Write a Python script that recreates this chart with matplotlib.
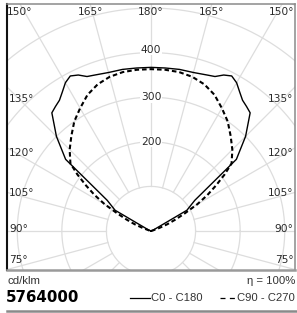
import numpy as np
import matplotlib
matplotlib.use("Agg")
import matplotlib.pyplot as plt
from matplotlib.lines import Line2D

# ---- data (cd/klm), gamma angle in degrees (0 = nadir, 180 = zenith) ----
gamma_c0 = [90, 105, 110, 115, 120, 125, 130, 135, 140, 142.5, 145, 147.5,
            150, 152.5, 155, 157.5, 160, 165, 170, 175, 180]
int_c0 = [0, 0, 2, 8, 93, 120, 250, 300, 346, 352, 358, 370,
          384, 392, 386, 375, 372, 368, 368, 367, 367]

gamma_c90 = [90, 100, 105, 110, 112.5, 115, 117.5, 120, 122.5, 125, 127.5,
             130, 135, 140, 145, 150, 155, 160, 165, 170, 175, 180]
int_c90 = [0, 0, 4, 20, 40, 60, 85, 120, 150, 178, 208,
           236, 258, 278, 300, 318, 337, 350, 358, 362, 363, 363]

ring_values = [100, 200, 300, 400, 500, 600]
ring_labels = [200, 300, 400]
angle_top = [150, 165, 180, 165, 150]
angle_side = [135, 120, 105, 90, 75]
model = "5764000"
unit = "cd/klm"
eta = "η = 100%"
legend_labels = ["C0 - C180", "C90 - C270"]

# ---- figure ----
W, H = 297, 313
fig = plt.figure(figsize=(W / 100, H / 100), dpi=100)
ax = fig.add_axes([7 / W, (H - 270) / H, 288 / W, 266 / H])
ax.set_xlim(-323, 323)
ax.set_ylim(-87.4, 509)
ax.set_aspect("equal", adjustable="box")
ax.set_xticks([])
ax.set_yticks([])

grid_c = "#dddddd"
t = np.linspace(0, 2 * np.pi, 400)
for rv in ring_values:
    ax.plot(rv * np.cos(t), rv * np.sin(t), color=grid_c, lw=0.9, zorder=1)
for a in range(0, 360, 15):
    g = np.radians(a)
    ax.plot([100 * np.sin(g), 800 * np.sin(g)], [-100 * np.cos(g), -800 * np.cos(g)],
            color=grid_c, lw=0.9, zorder=1)


def closed_curve(gam, val):
    g = np.radians(np.asarray(gam, float))
    r = np.asarray(val, float)
    xr, yr = r * np.sin(g), -r * np.cos(g)
    x = np.concatenate([xr, -xr[::-1]])
    y = np.concatenate([yr, yr[::-1]])
    return x, y


x0, y0 = closed_curve(gamma_c0, int_c0)
ax.plot(x0, y0, color="black", lw=1.0, zorder=3)
x9, y9 = closed_curve(gamma_c90, int_c90)
ax.plot(x9, y9, color="black", lw=1.5, ls=(0, (2.2, 1.4)), zorder=3)

lab_fs = 7.7
lab_c = "#2a2a2a"
# ring labels
for rv in ring_labels:
    ax.text(0, rv + (6 if rv == 400 else 0), str(rv), ha="center", va="center",
            fontsize=lab_fs, color=lab_c, zorder=4,
            bbox=dict(facecolor="white", edgecolor="none", pad=0.3))

# angle labels along the top edge
top_y = 491
for i, a in enumerate(angle_top):
    g = np.radians(a)
    side = -1 if i < 2 else (1 if i > 2 else 0)
    x_int = side * abs(np.tan(np.pi - g)) * 509
    ax.text(x_int, top_y, f"{a}°", ha="center", va="center", fontsize=lab_fs,
            color=lab_c, zorder=4)

side_y = [296, 175, 85, 4, -65]
for a, yy in zip(angle_side, side_y):
    ax.text(-318, yy, f"{a}°", ha="left", va="center", fontsize=lab_fs,
            color=lab_c, zorder=4)
    ax.text(320, yy, f"{a}°", ha="right", va="center", fontsize=lab_fs,
            color=lab_c, zorder=4)

for s in ["top", "right"]:
    ax.spines[s].set_color("#8a8a8a")
    ax.spines[s].set_linewidth(1.1)
ax.spines["bottom"].set_color("#9a9a9a")
ax.spines["bottom"].set_linewidth(1.8)
ax.spines["left"].set_color("#111111")
ax.spines["left"].set_linewidth(1.5)

# ---- bottom texts ----
def fx(px):
    return px / W


def fy(py):
    return (H - py) / H


fig.text(fx(8), fy(281), unit, ha="left", va="center", fontsize=8.2,
         family="Liberation Sans", color="#333333")
fig.text(fx(295), fy(281), eta, ha="right", va="center", fontsize=8.2,
         family="Liberation Sans", color="#333333")
fig.text(fx(6), fy(297.5), model, ha="left", va="center", fontsize=10.8,
         fontweight="bold", color="black")

fig.add_artist(Line2D([fx(130), fx(150)], [fy(298), fy(298)], color="black", lw=0.9))
fig.text(fx(151), fy(298), legend_labels[0], ha="left", va="center", fontsize=8.1,
         family="Liberation Sans", color="#333333")
fig.add_artist(Line2D([fx(220), fx(237)], [fy(298), fy(298)], color="black", lw=0.9,
                      ls=(0, (4, 3.5))))
fig.text(fx(295), fy(298), legend_labels[1], ha="right", va="center", fontsize=8.1,
         family="Liberation Sans", color="#333333")

fig.add_artist(Line2D([fx(7), fx(296)], [fy(311), fy(311)], color="#8a8a8a", lw=1.8))

fig.savefig("out.png", dpi=100)
